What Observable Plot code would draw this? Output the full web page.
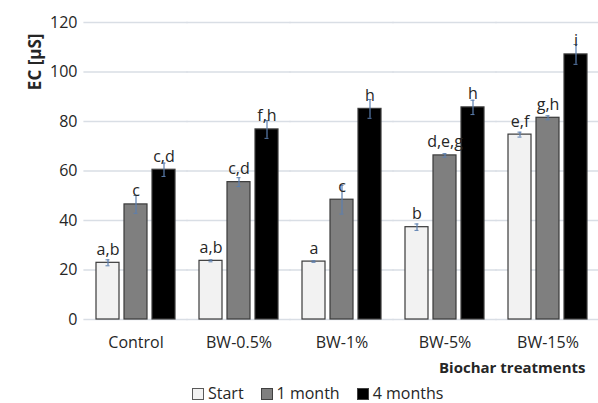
<!DOCTYPE html>
<html><head><meta charset="utf-8">
<script src="https://cdn.jsdelivr.net/npm/d3@7"></script>
<script src="https://cdn.jsdelivr.net/npm/@observablehq/plot@0.6"></script>
<style>
body{margin:0;background:#fff;font-family:"Open Sans",sans-serif;color:#262626;overflow:hidden;}
#chart svg{display:block;}
#legend{display:flex;align-items:center;margin-left:192px;margin-top:2px;height:19px;line-height:19px;font-size:16px;}
.item{display:flex;align-items:center;margin-right:17px;}
.sw{width:10px;height:10px;border:1px solid #404040;margin-right:4px;}
</style></head><body><div id="chart"></div><div id="legend"></div>
<script>
const categories = ["Control","BW-0.5%","BW-1%","BW-5%","BW-15%"];
const series = ["Start","1 month","4 months"];
const startValues = [22.9, 23.7, 23.4, 37.3, 74.7];
const startErr = [1.2, 0.4, 0.3, 1.3, 1.0];
const month1Values = [46.5, 55.5, 48.4, 66.3, 81.5];
const month1Err = [3.6, 1.8, 5.8, 0.7, 0.8];
const month4Values = [60.5, 76.8, 85.1, 85.7, 107.1];
const month4Err = [2.7, 3.6, 3.8, 2.9, 4.0];
const startLetters = ["a,b","a,b","a","b","e,f"];
const month1Letters = ["c","c,d","c","d,e,g","g,h"];
const month4Letters = ["c,d","f,h","h","h","i"];
const yTicks = [0,20,40,60,80,100,120];
const colors = ["#f2f2f2","#7f7f7f","#000000"];
const yLabel = "EC [µS]";
const xLabel = "Biochar treatments";

const rows = categories.flatMap((c,i)=>[
  {category:c, series:series[0], value:startValues[i], err:startErr[i], letter:startLetters[i]},
  {category:c, series:series[1], value:month1Values[i], err:month1Err[i], letter:month1Letters[i]},
  {category:c, series:series[2], value:month4Values[i], err:month4Err[i], letter:month4Letters[i]}
]);
const errColor = "#5b7fb0";
const plot = Plot.plot({
  width:598, height:382, marginLeft:84, marginRight:0, marginTop:22, marginBottom:63,
  style:{fontFamily:"Open Sans", fontSize:"16px", color:"#262626", background:"white", overflow:"visible"},
  fx:{domain:categories, paddingInner:0.217, paddingOuter:0.1, label:null},
  x:{domain:series, paddingInner:0.19, paddingOuter:0, axis:null},
  y:{domain:[0,120]},
  color:{domain:series, range:colors},
  marks:[
    Plot.ruleY(yTicks,{stroke:"#d9dee5", strokeWidth:1.3, insetLeft:-11.6, insetRight:-11.6}),
    Plot.axisY(yTicks,{tickSize:0, tickPadding:18, label:null, fontSize:16}),
    Plot.axisFx({anchor:"bottom", tickSize:0, tickPadding:17, label:null, fontSize:16}),
    Plot.barY(rows,{fx:"category", x:"series", y:"value", fill:"series", stroke:"#3a3a3a", strokeWidth:1.2}),
    Plot.ruleX(rows,{fx:"category", x:"series", y1:d=>d.value-d.err, y2:d=>d.value+d.err, stroke:errColor, strokeWidth:1.2}),
    Plot.tickY(rows,{fx:"category", x:"series", y:d=>d.value-d.err, stroke:errColor, insetLeft:9.5, insetRight:9.5}),
    Plot.tickY(rows,{fx:"category", x:"series", y:d=>d.value+d.err, stroke:errColor, insetLeft:9.5, insetRight:9.5}),
    Plot.text(rows,{fx:"category", x:"series", y:"value", text:"letter", dy:-8, lineAnchor:"bottom", fill:"#262626", fontSize:16}),
    Plot.text([yLabel],{facet:"super", frameAnchor:"top-left", rotate:-90, textAnchor:"end", dx:-67, dy:11, fontWeight:"bold", fontSize:17, fill:"#262626"}),
    Plot.text([xLabel],{facet:"super", frameAnchor:"bottom-right", textAnchor:"end", lineAnchor:"middle", dx:-3, dy:49, fontWeight:"bold", fontSize:15, fill:"#262626"})
  ]
});
document.getElementById("chart").appendChild(plot);
const legend = document.getElementById("legend");
series.forEach((s,i)=>{
  const it = document.createElement("div"); it.className="item";
  const sw = document.createElement("span"); sw.className="sw"; sw.style.background=colors[i];
  if(i===0) sw.style.borderColor="#595959";
  const t = document.createElement("span"); t.textContent=s;
  it.appendChild(sw); it.appendChild(t); legend.appendChild(it);
});
</script></body></html>
